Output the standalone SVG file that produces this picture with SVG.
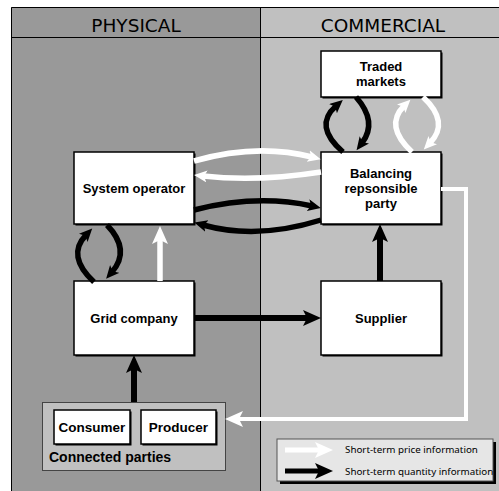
<svg xmlns="http://www.w3.org/2000/svg" width="499" height="491" viewBox="0 0 499 491">
<style>
.box{fill:#fff;stroke:#000;stroke-width:1.5}
.sh{fill:#000}
.lbl{font-family:"Liberation Sans","Noto Sans",sans-serif;font-weight:bold;font-size:13px;fill:#000;text-anchor:middle}
.hdr{font-family:"DejaVu Sans","Noto Sans",sans-serif;font-size:18.5px;fill:#000;text-anchor:middle}
.leg{font-family:"Noto Sans","DejaVu Sans",sans-serif;font-size:9.8px;fill:#000}
.kb{fill:none;stroke:#000}
.kw{fill:none;stroke:#fff}
</style>
<defs>
<marker id="bL" markerUnits="userSpaceOnUse" markerWidth="20" markerHeight="18" refX="5" refY="8" orient="auto"><path d="M0,0 L18,8 L0,16 L4,8 z" fill="#000"/></marker>
<marker id="wL" markerUnits="userSpaceOnUse" markerWidth="20" markerHeight="18" refX="5" refY="8" orient="auto"><path d="M0,0 L18,8 L0,16 L4,8 z" fill="#fff"/></marker>
<marker id="bS" markerUnits="userSpaceOnUse" markerWidth="15" markerHeight="14" refX="4" refY="6" orient="auto"><path d="M0,0 L13,6 L0,12 L3,6 z" fill="#000"/></marker>
<marker id="wS" markerUnits="userSpaceOnUse" markerWidth="15" markerHeight="14" refX="4" refY="6" orient="auto"><path d="M0,0 L13,6 L0,12 L3,6 z" fill="#fff"/></marker>
</defs>
<rect x="0" y="0" width="499" height="491" fill="#fff"/>
<g id="background">
<rect x="11" y="7" width="249" height="484" fill="#999999"/>
<rect x="260" y="7" width="239" height="484" fill="#c0c0c0"/>
<path d="M11.5,491 V7.5 H499 M11,37.5 H499 M260.5,7 V491" fill="none" stroke="#000" stroke-width="1"/>
<text class="hdr" x="136" y="32">PHYSICAL</text>
<text class="hdr" x="383" y="32">COMMERCIAL</text>
</g>
<g id="traded-markets">
<rect class="sh" x="322.5" y="52.5" width="120" height="46"/>
<rect class="box" x="321" y="51" width="120" height="46"/>
<text class="lbl" x="381" y="71">Traded</text>
<text class="lbl" x="381" y="86">markets</text>
</g>
<g id="brp">
<rect class="sh" x="322.5" y="153.5" width="120" height="72"/>
<rect class="box" x="321" y="152" width="120" height="72"/>
<text class="lbl" x="381" y="177.5">Balancing</text>
<text class="lbl" x="381" y="192.5">repsonsible</text>
<text class="lbl" x="381" y="207.5">party</text>
</g>
<g id="system-operator">
<rect class="sh" x="75.5" y="153.5" width="120" height="72"/>
<rect class="box" x="74" y="152" width="120" height="72"/>
<text class="lbl" x="134" y="193">System operator</text>
</g>
<g id="grid-company">
<rect class="sh" x="75.5" y="282.5" width="120" height="74"/>
<rect class="box" x="74" y="281" width="120" height="74"/>
<text class="lbl" x="134" y="323">Grid company</text>
</g>
<g id="supplier">
<rect class="sh" x="322.5" y="282.5" width="120" height="74"/>
<rect class="box" x="321" y="281" width="120" height="74"/>
<text class="lbl" x="381" y="323">Supplier</text>
</g>
<g id="connected-parties">
<rect x="42.5" y="402.5" width="183" height="68" fill="#c0c0c0" stroke="#444" stroke-width="1"/>
<text class="lbl" x="49" y="462" style="text-anchor:start;font-size:14px">Connected parties</text>
</g>
<g id="consumer">
<rect class="sh" x="55.5" y="411.5" width="76" height="34"/>
<rect class="box" x="54" y="410" width="76" height="34"/>
<text class="lbl" x="92" y="432" style="font-size:13.5px">Consumer</text>
</g>
<g id="producer">
<rect class="sh" x="142.5" y="411.5" width="75" height="34"/>
<rect class="box" x="141" y="410" width="75" height="34"/>
<text class="lbl" x="178.5" y="432" style="font-size:13.5px">Producer</text>
</g>
<g id="connectors">
<path class="kb" stroke-width="6" d="M194,318 L308,318" marker-end="url(#bL)"/>
<path class="kb" stroke-width="6" d="M380,281 L380,237" marker-end="url(#bL)"/>
<path class="kb" stroke-width="6" d="M134,402 L134,368" marker-end="url(#bL)"/>
<path class="kw" stroke-width="5.5" d="M160,281 L160,239" marker-end="url(#wL)"/>
<path class="kw" stroke-width="4" d="M441,189 L466,189 L466,419 L238,419" marker-end="url(#wL)"/>
<path class="kw" stroke-width="5.5" d="M194,161 Q257,143 312,157" marker-end="url(#wS)"/>
<path class="kw" stroke-width="5.5" d="M321,172 Q257,182 203,176" marker-end="url(#wS)"/>
<path class="kb" stroke-width="5.5" d="M194,210 Q257,194 312,206" marker-end="url(#bS)"/>
<path class="kb" stroke-width="5.5" d="M321,220 Q257,240 203,225" marker-end="url(#bS)"/>
<path class="kb" stroke-width="5.5" d="M343,152 Q313,126 336,106" marker-end="url(#bS)"/>
<path class="kb" stroke-width="5.5" d="M356,97 Q378,122 362,143" marker-end="url(#bS)"/>
<path class="kw" stroke-width="5.5" d="M412,152 Q384,126 404,106" marker-end="url(#wS)"/>
<path class="kw" stroke-width="5.5" d="M423,97 Q450,122 430,143" marker-end="url(#wS)"/>
<path class="kb" stroke-width="5.5" d="M94,282 Q66,256 86,235" marker-end="url(#bS)"/>
<path class="kb" stroke-width="5.5" d="M107,225 Q131,250 112,272" marker-end="url(#bS)"/>
</g>
<g id="legend">
<rect x="280" y="442" width="216" height="42" fill="#000"/>
<rect x="277" y="439" width="216" height="42" fill="#e6e6e6" stroke="#555" stroke-width="1"/>
<path class="kw" stroke-width="5" d="M285,450 L320,450" marker-end="url(#wL)"/>
<path class="kb" stroke-width="5" d="M285,471 L320,471" marker-end="url(#bL)"/>
<text class="leg" x="345" y="453">Short-term price information</text>
<text class="leg" x="345" y="475">Short-term quantity information</text>
</g>
</svg>
